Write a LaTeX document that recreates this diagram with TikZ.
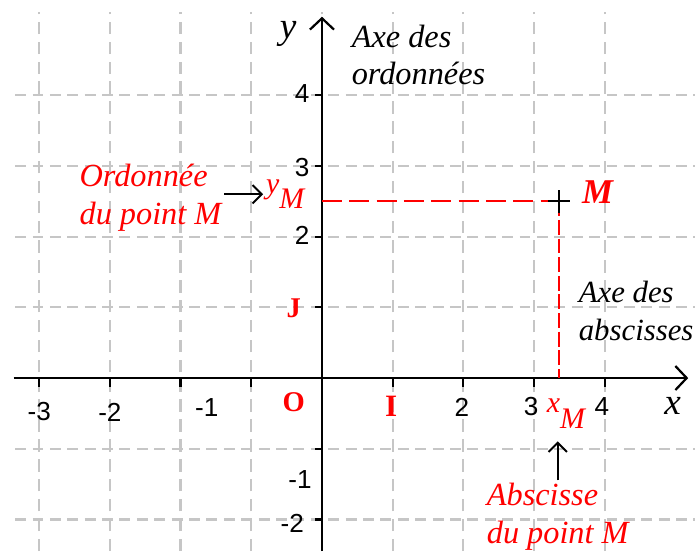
\documentclass[tikz,border=0pt]{standalone}
\usepackage{fontspec}
\setmainfont{Liberation Serif}
\newfontfamily\numfont{Liberation Sans}
\usetikzlibrary{calc,arrows.meta,positioning}

\begin{document}
\begin{tikzpicture}[x=1cm, y=1cm, line join=round,
    >={Straight Barb[length=1.6mm,width=3.4mm]},
    gridv/.style={gray!45, line width=0.9pt, dash pattern=on 5pt off 3pt},
    gridh/.style={gray!45, line width=0.9pt, dash pattern=on 4.4pt off 2.6pt},
    numlab/.style={font=\numfont\fontsize{10.5}{12}\selectfont, inner sep=0pt},
    redlab/.style={red, font=\bfseries\fontsize{11.5}{13}\selectfont, inner sep=0pt},
    note/.style={font=\itshape\fontsize{13}{15}\selectfont, align=left, inner sep=1pt},
    pointer/.style={->, line width=0.8pt, >={Straight Barb[length=1.3mm,width=2.6mm]}}]
  \useasboundingbox (-4.554,-2.447) rectangle (5.276,5.347);
  % grid
  \foreach \i in {-4,...,4}
    \draw[gridv] (\i,-2.447) -- (\i,5.18);
  \foreach \j in {-2,-1,1,2,3,4}
    \draw[gridh] (-4.34,\j) -- (5.276,\j);
  % axes
  \draw[->, line width=0.9pt] (-4.36,0) -- (5.18,0);
  \draw[->, line width=0.9pt] (0,-2.447) -- (0,5.11);
  \foreach \i in {-4,...,-1,1,2,3,4}
    \draw[line width=0.9pt] (\i,0) -- (\i,-0.13);
  \foreach \j in {-2,-1,1,2,3,4}
    \draw[line width=0.9pt] (0,\j) -- (-0.1,\j);
  \node[font=\itshape\fontsize{15}{15}\selectfont] (xlab) at (4.96,-0.40) {x};
  \node[font=\itshape\fontsize{15}{15}\selectfont] (ylab) at (-0.48,4.86) {y};
  % graduations
  \node[numlab] (xm3) at (-4.0,-0.48) {-3};
  \node[numlab] (xm2) at (-3.0,-0.48) {-2};
  \node[numlab] (xm1) at (-1.63,-0.42) {-1};
  \node[numlab] (x2) at (1.98,-0.41) {2};
  \node[numlab] (x3) at (2.96,-0.41) {3};
  \node[numlab] (x4) at (3.96,-0.41) {4};
  \node[numlab] (y4) at (-0.28,4.02) {4};
  \node[numlab] (y3) at (-0.28,2.98) {3};
  \node[numlab] (y2) at (-0.28,2.02) {2};
  \node[numlab] (ym1) at (-0.31,-1.44) {-1};
  \node[numlab] (ym2) at (-0.42,-2.05) {-2};
  \node[redlab] (O) at (-0.40,-0.34) {O};
  \node[redlab, font=\bfseries\fontsize{12.5}{13}\selectfont] (I) at (0.98,-0.40) {I};
  \node[redlab] (J) at (-0.40,0.98) {J};
  % point M
  \coordinate (M) at (3.35,2.5);
  \draw[red, line width=0.7pt, dash pattern=on 8pt off 3pt] (0,2.5) -- (M);
  \draw[red, line width=0.6pt, dash pattern=on 6pt off 1.5pt] (M) -- (3.35,0);
  \draw[line width=0.7pt] ($(M)+(-0.16,0)$) -- ($(M)+(0.16,0)$)
    ($(M)+(0,-0.16)$) -- ($(M)+(0,0.16)$);
  \node[red, font=\bfseries\itshape\fontsize{14}{14}\selectfont] (Mlab) at (3.90,2.63) {M};
  \node[red, font=\itshape\fontsize{12}{12}\selectfont, inner sep=1pt] (yM) at (-0.52,2.60)
    {y\raisebox{-0.5em}{M}};
  \node[red, font=\itshape\fontsize{12}{12}\selectfont, inner sep=1pt] (xM) at (3.45,-0.50)
    {x\raisebox{-0.55em}{M}};
  % texts
  \node[note, anchor=west] (axeY) at (0.38,4.57) {Axe des\\ordonn\'ees};
  \node[note, anchor=west, font=\itshape\fontsize{12.4}{15}\selectfont] (axeX) at (3.59,0.95)
    {Axe des\\abscisses};
  \node[note, red, anchor=west] (ordM) at (-3.47,2.55) {Ordonn\'ee\\du point M};
  \node[note, red, anchor=west] (absM) at (2.29,-1.96) {Abscisse\\du point M};
  \draw[pointer] (ordM.east |- yM.west) -- (yM.west);
  \draw[pointer, shorten >=4pt] (absM.north) -- (absM.north |- xM.south);
\end{tikzpicture}
\end{document}
